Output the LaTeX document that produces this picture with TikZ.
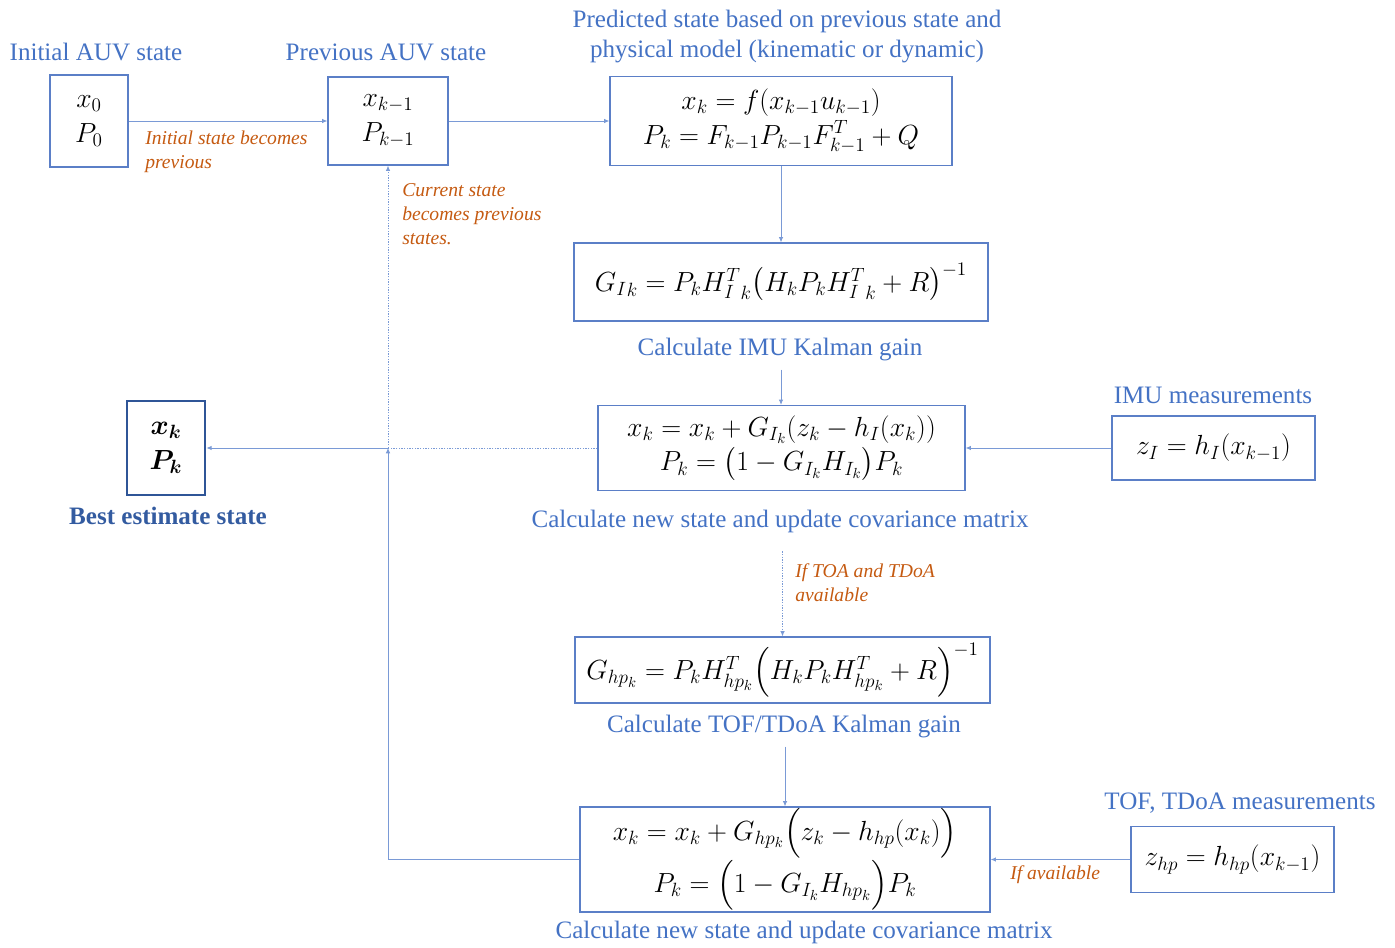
\documentclass[tikz,border=0pt]{standalone}
\usepackage{amsmath}
\usepackage{bm}
\usepackage{fontspec}
\setmainfont{Liberation Serif}
\usetikzlibrary{arrows.meta,calc}

\definecolor{capblue}{HTML}{4472C4}
\definecolor{edgeblue}{HTML}{5B7FC7}
\definecolor{linkblue}{HTML}{7A9AD6}
\definecolor{darkblue}{HTML}{2F5597}
\definecolor{noteorange}{HTML}{C55A11}

\tikzset{
  mbox/.style={draw=edgeblue, line width=0.9pt, fill=white, align=center,
    inner sep=0pt, font=\fontsize{21}{26}\selectfont},
  caption/.style={text=capblue, font=\fontsize{18.8}{22.5}\selectfont, align=center, inner sep=0pt},
  note/.style={text=noteorange, font=\fontsize{14.7}{18}\selectfont\itshape, align=left, inner sep=0pt},
  link/.style={draw=linkblue, line width=0.7pt, -{Latex[length=4pt,width=3.5pt]}},
  dotlink/.style={link, dash pattern=on 1pt off 1pt},
}

\begin{document}
\begin{tikzpicture}[x=0.75pt,y=-0.75pt]
\useasboundingbox (0,0) rectangle (1395,948);

% state boxes
\node[mbox, minimum width=58.5pt, minimum height=69pt] (init) at (89,121)
  {$x_0$\\$P_0$};
\node[mbox, minimum width=90pt, minimum height=66pt] (prev) at (388,121)
  {$x_{k-1}$\\$P_{k-1}$};
\node[mbox, minimum width=256.5pt, minimum height=66.75pt] (pred) at (781,121)
  {$x_k = f(x_{k-1}u_{k-1})$\\$P_k = F_{k-1}P_{k-1}F^{T}_{k-1} + Q$};
\node[mbox, minimum width=310.5pt, minimum height=58.5pt] (gimu) at (781,282)
  {$ {G_I}_k = P_k {H_I^T}_{k}\bigl(H_k P_k {H_I^T}_{k} + R\bigr)^{-1}$};
\node[mbox, minimum width=275.25pt, minimum height=63.75pt] (upd1) at (781.5,448)
  {$x_k = x_k + G_{I_k}(z_k - h_I(x_k))$\\$P_k = \bigl(1 - G_{I_k}H_{I_k}\bigr)P_k$};
\node[mbox, minimum width=152.25pt, minimum height=48pt] (imu) at (1213.5,448)
  {$z_I = h_I(x_{k-1})$};
\node[mbox, draw=darkblue, line width=2pt, minimum width=58.5pt, minimum height=70.5pt] (best) at (166,448)
  {$\bm{x_k}$\\$\bm{P_k}$};
\node[mbox, minimum width=311.25pt, minimum height=49.5pt] (ghp) at (782.5,670)
  {$G_{hp_k} = P_k H^{T}_{hp_k}\Bigl(H_k P_k H^{T}_{hp_k} + R\Bigr)^{-1}$};
\node[mbox, minimum width=307.5pt, minimum height=78.75pt] (upd2) at (785,859.5)
  {$x_k = x_k + G_{hp_k}\Bigl(z_k - h_{hp}(x_k)\Bigr)$\\[1pt]$P_k = \Bigl(1 - G_{I_k}H_{hp_k}\Bigr)P_k$};
\node[mbox, minimum width=152.25pt, minimum height=49.5pt] (hp) at (1232.5,859.5)
  {$z_{hp} = h_{hp}(x_{k-1})$};

% captions
\node[caption] (capinit) at (96,52) {Initial AUV state};
\node[caption] (capprev) at (386,52) {Previous AUV state};
\node[caption] (cappred) at (787,37) {Predicted state based on previous state and\\physical model (kinematic or dynamic)};
\node[caption] (capimu) at (1213,395) {IMU measurements};
\node[caption, text=darkblue!80!capblue, font=\fontsize{18.8}{22.5}\selectfont\bfseries] (capbest) at (168,516) {Best estimate state};
\node[caption] (caphp) at (1240,803) {TOF, TDoA measurements};
\node[caption] (capgimu) at (780,350) {Calculate IMU Kalman gain};
\node[caption] (capupd1) at (780,521) {Calculate new state and update covariance matrix};
\node[caption] (capghp) at (784,727) {Calculate TOF/TDoA Kalman gain};
\node[caption] (capupd2) at (804,932) {Calculate new state and update covariance matrix};

% connectors
\draw[link] (init) -- (prev);
\draw[link] (prev) -- (pred);
\draw[link] (pred.south) -- (gimu.north);
\draw[link] ([yshift=-6pt]capgimu.south -| gimu.south) -- (gimu.south |- upd1.north);
\draw[dotlink] ([yshift=-14pt]capupd1.south -| ghp.north) -- (ghp.north);
\draw[link] ([yshift=-6pt]capghp.south -| upd2.north) -- (upd2.north);
\draw[link] (imu.west) -- (upd1.east);
\draw[link] (hp.west) -- (upd2.east);

% feedback to the previous state and output to the best estimate
\coordinate (joint) at (prev.south |- best.east);
\draw[link] (upd2.west) -- (upd2.west -| joint) -- (joint);
\draw[dotlink] (joint) -- (prev.south);
\draw[link, dash pattern=on 1pt off 1pt, -] (upd1.west) -- (joint);
\draw[link] (joint) -- (best.east);

% notes
\node[note, anchor=north west] (n1) at (145,131) {Initial state becomes\\previous};
\node[note, anchor=north west] (n2) at (402,183) {Current state\\becomes previous\\states.};
\node[note, anchor=north west] (n3) at (795,563) {If TOA and TDoA\\available};
\node[note, anchor=north west] (n4) at (1010,865) {If available};
\end{tikzpicture}
\end{document}
